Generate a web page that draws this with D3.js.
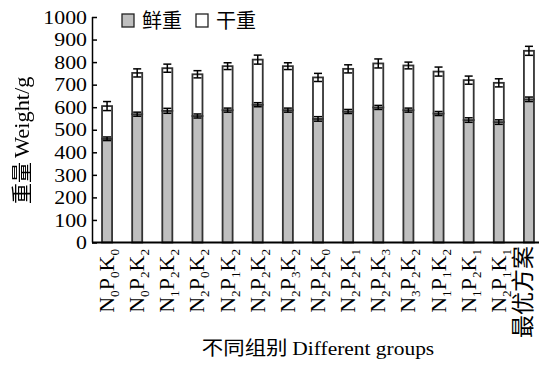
<!DOCTYPE html>
<html>
<head>
<meta charset="utf-8">
<script src="https://cdn.jsdelivr.net/npm/d3@7"></script>
<style>
  html, body { margin: 0; padding: 0; background: #fff; }
  svg { display: block; }
  text, tspan { font-family: "Liberation Serif", "Times New Roman", serif; fill: #000; }
  .cjk { font-family: "Noto Sans CJK SC", sans-serif; fill: #000; }
</style>
</head>
<body>
<svg id="chart" width="539" height="365"></svg>
<script>
// Treatment groups (digits are drawn as subscripts)
const groups = ["N0P0K0", "N0P2K2", "N1P2K2", "N2P0K2", "N2P1K2", "N2P2K2", "N2P3K2",
                "N2P2K0", "N2P2K1", "N2P2K3", "N3P2K2", "N1P1K2", "N1P2K1", "N2P1K1", "最优方案"];
// 鲜重 segment (grey, bottom) and 干重 segment (white, stacked on top), g
const freshWeight = [460, 569, 584, 561, 587, 611, 587, 548, 581, 599, 587, 572, 543, 534, 635];
const dryWeight   = [145, 183, 189, 185, 195, 200, 195, 184, 189, 195, 198, 186, 177, 174, 215];
const freshError  = [8, 9, 11, 9, 9, 9, 9, 10, 9, 9, 9, 9, 10, 10, 10];
const totalError  = [20, 18, 18, 16, 15, 20, 15, 18, 18, 20, 15, 20, 18, 18, 20];
const yTicks = [0, 100, 200, 300, 400, 500, 600, 700, 800, 900, 1000];
const legendItems = ["鲜重", "干重"];
const legendColors = ["#bfbfbf", "#ffffff"];

const svg = d3.select("#chart");
const plotLeft = 92, plotRight = 544, plotTop = 17, plotBottom = 242.5;

// Greyscale filter for the rotated axis title
svg.append("defs").append("filter").attr("id", "mono")
  .append("feColorMatrix").attr("type", "saturate").attr("values", 0);

const x = d3.scaleBand().domain(groups).range([plotLeft, plotRight])
  .paddingInner(0.667).paddingOuter(0.333);
const y = d3.scaleLinear().domain([0, 1000]).range([plotBottom, plotTop]);

const rows = groups.map((g, i) => ({ group: g, fresh: freshWeight[i], dry: dryWeight[i] }));
const stacked = d3.stack().keys(["fresh", "dry"])(rows);

// Stacked bars
svg.append("g").selectAll("g.layer").data(stacked).join("g")
  .attr("fill", (d, i) => legendColors[i])
  .selectAll("rect").data(d => d).join("rect")
  .attr("x", d => x(d.data.group))
  .attr("width", x.bandwidth())
  .attr("y", d => y(d[1]))
  .attr("height", d => y(d[0]) - y(d[1]))
  .attr("stroke", "#333")
  .attr("stroke-width", 1.8);

// Error bars at the top of each segment
function errorBars(tops, errs) {
  const g = svg.append("g").attr("stroke", "#000").attr("stroke-width", 1.5).attr("fill", "none");
  const capW = x.bandwidth() * 0.8;
  groups.forEach((grp, i) => {
    const cx = x(grp) + x.bandwidth() / 2;
    const hi = y(tops[i] + errs[i]), lo = y(tops[i] - errs[i]);
    g.append("line").attr("x1", cx).attr("x2", cx).attr("y1", hi).attr("y2", lo);
    g.append("line").attr("x1", cx - capW / 2).attr("x2", cx + capW / 2).attr("y1", hi).attr("y2", hi);
    g.append("line").attr("x1", cx - capW / 2).attr("x2", cx + capW / 2).attr("y1", lo).attr("y2", lo);
  });
}
errorBars(freshWeight, freshError);
errorBars(freshWeight.map((f, i) => f + dryWeight[i]), totalError);

// Y axis with inward ticks
const yAxis = d3.axisRight(y).tickValues(yTicks).tickSize(5).tickFormat("");
const yg = svg.append("g").attr("transform", `translate(${plotLeft},0)`).call(yAxis);
yg.select(".domain").attr("stroke", "#000").attr("stroke-width", 1.5)
  .attr("d", `M0.5,${plotTop}V${plotBottom}`);
yg.selectAll(".tick line").attr("stroke", "#000").attr("stroke-width", 1.5);
svg.append("g").selectAll("text").data(yTicks).join("text")
  .attr("transform", d => `translate(${plotLeft - 5},${y(d)}) scale(1.15,1)`)
  .attr("dy", "0.35em").attr("text-anchor", "end")
  .attr("font-size", 19).text(d => d);

// X axis line
svg.append("line").attr("x1", plotLeft).attr("x2", 539).attr("y1", plotBottom).attr("y2", plotBottom)
  .attr("stroke", "#000").attr("stroke-width", 2);

// Rotated group labels with subscripts
const xl = svg.append("g");
groups.forEach(g => {
  const cx = x(g) + x.bandwidth() / 2;
  if (/^[A-Z0-9]+$/.test(g)) {
    const t = xl.append("text")
      .attr("transform", `translate(${cx + 7},${249}) rotate(-90) scale(1.1,1)`)
      .attr("text-anchor", "end")
      .attr("font-size", 20);
    const parts = g.match(/[A-Z]\d/g);
    parts.forEach((p, k) => {
      t.append("tspan").attr("dy", k === 0 ? 0 : -5).text(p[0]);
      t.append("tspan").attr("dy", 5).attr("font-size", 12).text(p[1]);
    });
  } else {
    xl.append("text")
      .attr("class", "cjk")
      .attr("transform", `translate(${cx + 2},${246}) rotate(-90)`)
      .attr("text-anchor", "end")
      .attr("font-size", 23).text(g);
  }
});

// Axis titles
const ytg = svg.append("g").attr("filter", "url(#mono)");
ytg.append("text").attr("class", "cjk")
  .attr("transform", "translate(29,204) rotate(-90)")
  .attr("font-size", 21).text("重量");
ytg.append("text")
  .attr("transform", "translate(29,158) rotate(-90) scale(1.12,1)")
  .attr("font-size", 20).text("Weight/g");

const xt = svg.append("text")
  .attr("transform", "translate(318,355) scale(1.1,1)")
  .attr("text-anchor", "middle").attr("font-size", 19.5);
xt.append("tspan").attr("class", "cjk").text("不同组别 ");
xt.append("tspan").text("Different groups");

// Legend
const leg = svg.append("g");
const legX = [122, 196];
legendItems.forEach((name, i) => {
  leg.append("rect").attr("x", legX[i]).attr("y", 14).attr("width", 12).attr("height", 13)
    .attr("fill", legendColors[i]).attr("stroke", "#222").attr("stroke-width", 1.3);
  leg.append("text").attr("class", "cjk").attr("x", legX[i] + 20).attr("y", 27.5)
    .attr("font-size", 20).text(name);
});
</script>
</body>
</html>
